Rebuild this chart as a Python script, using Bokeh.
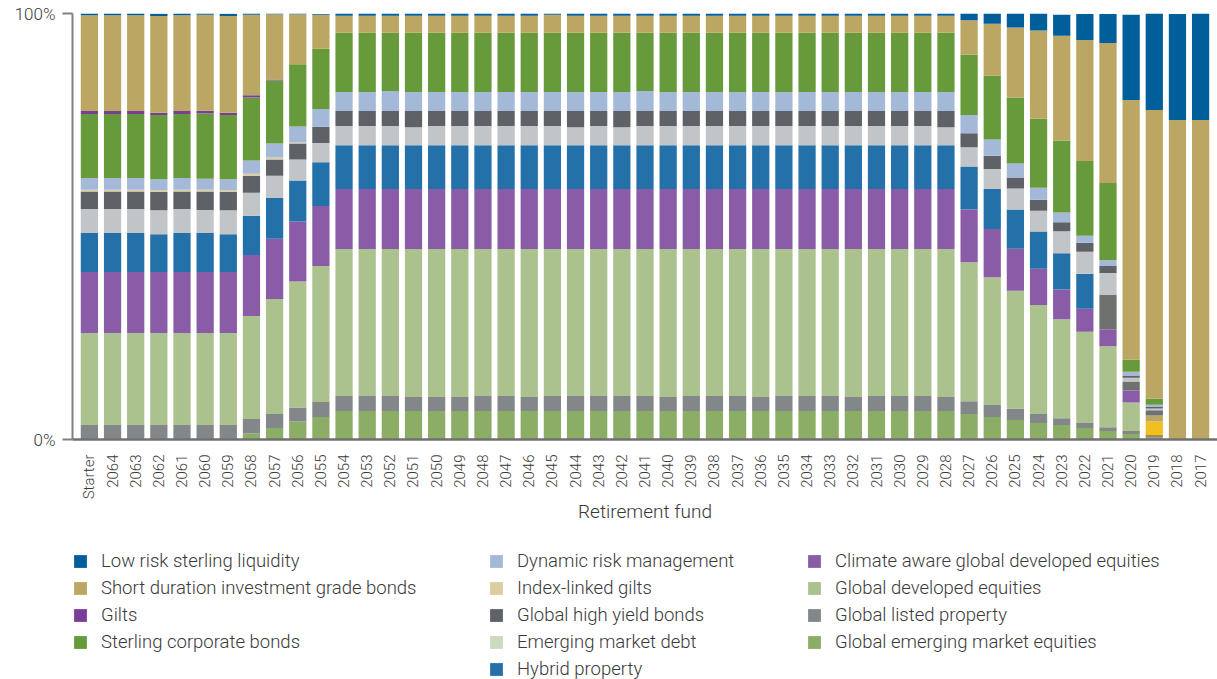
import math
from bokeh.plotting import figure
from bokeh.layouts import column
from bokeh.models import (ColumnDataSource, FactorRange, Range1d, FixedTicker,
                          Legend, LegendItem)
from bokeh.embed import file_html
from bokeh.resources import INLINE

FONT = "Roboto Light, Roboto"
TXT = "#3a3a3a"

categories = ["Starter", "2064", "2063", "2062", "2061", "2060", "2059", "2058", "2057", "2056",
              "2055", "2054", "2053", "2052", "2051", "2050", "2049", "2048", "2047", "2046",
              "2045", "2044", "2043", "2042", "2041", "2040", "2039", "2038", "2037", "2036",
              "2035", "2034", "2033", "2032", "2031", "2030", "2029", "2028", "2027", "2026",
              "2025", "2024", "2023", "2022", "2021", "2020", "2019", "2018", "2017"]

# values in % of each fund, bottom of stack first
unlabelled_light_blue = [0]*46 + [0.6, 0, 0]
unlabelled_olive = [0]*46 + [0.45, 0, 0]
unlabelled_yellow = [0]*46 + [3.2, 0, 0]
unlabelled_tan = [0]*46 + [1.4, 0, 0]

global_emerging_market_equities = [
    0, 0, 0, 0, 0, 0, 0, 1.4, 2.7, 4.2, 5.3,
    6.7, 6.7, 6.7, 6.7, 6.7, 6.7, 6.7, 6.7, 6.7, 6.7, 6.7, 6.7, 6.7, 6.7, 6.7, 6.7, 6.7, 6.7,
    6.7, 6.7, 6.7, 6.7, 6.7, 6.7, 6.7, 6.7, 6.7,
    6.0, 5.3, 4.6, 3.9, 3.4, 2.7, 2.0, 1.3, 0, 0, 0]
global_listed_property = [
    3.4, 3.4, 3.4, 3.4, 3.4, 3.4, 3.4, 3.4, 3.3, 3.3, 3.5,
    3.5, 3.5, 3.5, 3.3, 3.3, 3.3, 3.5, 3.5, 3.3, 3.5, 3.5, 3.5, 3.5, 3.5, 3.3, 3.5, 3.5, 3.5,
    3.3, 3.5, 3.5, 3.5, 3.3, 3.5, 3.5, 3.5, 3.3,
    3.0, 2.8, 2.6, 2.1, 1.6, 1.2, 0.9, 0.7, 0, 0, 0]
global_developed_equities = [
    21.6, 21.6, 21.6, 21.6, 21.6, 21.6, 21.6, 24.2, 27.0, 29.6, 31.9,
    34.5, 34.5, 34.5, 34.7, 34.7, 34.7, 34.5, 34.5, 34.7, 34.5, 34.5, 34.5, 34.5, 34.5, 34.7, 34.5, 34.5, 34.5,
    34.7, 34.5, 34.5, 34.5, 34.7, 34.5, 34.5, 34.5, 34.7,
    32.6, 30.0, 27.7, 25.6, 23.2, 21.4, 19.0, 6.7, 0, 0, 0]
climate_aware_equities = [
    14.3, 14.3, 14.3, 14.3, 14.3, 14.3, 14.3, 14.3, 14.1, 14.1, 14.1,
    14.1, 14.1, 14.1, 14.1, 14.1, 14.1, 14.1, 14.1, 14.1, 14.1, 14.1, 14.1, 14.1, 14.1, 14.1, 14.1, 14.1, 14.1,
    14.1, 14.1, 14.1, 14.1, 14.1, 14.1, 14.1, 14.1, 14.1,
    12.4, 11.3, 9.9, 8.5, 7.0, 5.4, 4.0, 2.8, 0, 0, 0]
hybrid_property = [
    9.2, 9.2, 9.2, 8.9, 9.2, 9.2, 8.9, 9.2, 9.6, 9.6, 10.3,
    10.3, 10.3, 10.3, 10.3, 10.3, 10.3, 10.3, 10.3, 10.3, 10.3, 10.3, 10.3, 10.3, 10.3, 10.3, 10.3, 10.3, 10.3,
    10.3, 10.3, 10.3, 10.3, 10.3, 10.3, 10.3, 10.3, 10.3,
    10.1, 9.4, 9.2, 8.7, 8.5, 8.2, 0, 0, 0, 0, 0]
unlabelled_grey = [0]*44 + [8.0, 2.1, 1.2, 0, 0]
emerging_market_debt = [
    5.6, 5.6, 5.6, 5.6, 5.6, 5.4, 5.6, 5.4, 5.2, 4.9, 4.5,
    4.5, 4.5, 4.5, 4.2, 4.5, 4.5, 4.5, 4.5, 4.5, 4.5, 4.2, 4.5, 4.2, 4.5, 4.5, 4.5, 4.5, 4.5,
    4.5, 4.5, 4.5, 4.5, 4.5, 4.5, 4.5, 4.5, 4.2,
    4.5, 4.7, 4.9, 4.9, 5.2, 5.2, 5.2, 0.9, 0.4, 0, 0]
global_high_yield_bonds = [
    4.1, 4.1, 4.1, 4.3, 4.1, 4.3, 4.3, 4.0, 3.8, 3.8, 3.8,
    3.5, 3.5, 3.5, 3.8, 3.5, 3.5, 3.5, 3.5, 3.5, 3.5, 3.8, 3.5, 3.8, 3.5, 3.5, 3.5, 3.5, 3.5,
    3.5, 3.5, 3.5, 3.5, 3.5, 3.5, 3.5, 3.5, 3.8,
    3.3, 3.1, 2.6, 2.6, 2.1, 2.1, 1.6, 0.5, 0.4, 0, 0]
index_linked_gilts = [
    0.4, 0.4, 0.4, 0.4, 0.4, 0.4, 0.4, 0.5, 0.5, 0.2, 0] + [0]*38
dynamic_risk_management = [
    2.8, 2.8, 2.8, 2.6, 2.8, 2.6, 2.6, 3.1, 3.3, 3.8, 4.2,
    4.5, 4.5, 4.7, 4.5, 4.5, 4.5, 4.5, 4.5, 4.5, 4.5, 4.5, 4.5, 4.5, 4.7, 4.5, 4.5, 4.5, 4.5,
    4.5, 4.5, 4.5, 4.5, 4.5, 4.5, 4.5, 4.5, 4.5,
    4.2, 3.8, 3.3, 2.8, 2.3, 1.6, 1.4, 0.9, 0.5, 0, 0]
sterling_corporate_bonds = [
    15.0, 15.0, 15.0, 15.1, 15.0, 15.3, 15.1, 14.8, 14.8, 14.6, 14.1,
    13.9, 13.9, 13.7, 13.9, 13.9, 13.9, 13.9, 13.9, 13.9, 13.9, 13.9, 13.9, 13.9, 13.7, 13.9, 13.9, 13.9, 13.9,
    13.9, 13.9, 13.9, 13.9, 13.9, 13.9, 13.9, 13.9, 13.9,
    14.3, 15.0, 15.5, 16.2, 16.9, 17.6, 18.1, 2.8, 1.4, 0, 0]
gilts = [0.7, 0.7, 0.7, 0.5, 0.7, 0.7, 0.5, 0.5, 0.2, 0, 0] + [0]*38
short_duration_ig_bonds = [
    22.5, 22.5, 22.5, 22.7, 22.5, 22.5, 22.7, 18.9, 15.3, 11.7, 8.0,
    4.0, 4.0, 4.0, 4.0, 4.0, 4.0, 4.0, 4.0, 4.0, 4.2, 4.0, 4.0, 4.0, 4.0, 4.0, 4.0, 4.0, 4.0,
    4.0, 4.0, 4.0, 4.0, 4.0, 4.0, 4.0, 4.0, 4.0,
    8.0, 12.2, 16.4, 20.7, 24.6, 28.4, 32.9, 61.0, 67.8, 75.0, 75.0]
low_risk_sterling_liquidity = [
    0.55, 0.55, 0.55, 0.55, 0.55, 0.55, 0.55, 0.55, 0.2, 0.2, 0.2,
    0.7, 0.7, 0.7, 0.7, 0.7, 0.7, 0.7, 0.7, 0.7, 0.5, 0.7, 0.7, 0.7, 0.7, 0.7, 0.7, 0.7, 0.7,
    0.7, 0.7, 0.7, 0.7, 0.7, 0.7, 0.7, 0.7, 0.7,
    1.6, 2.6, 3.5, 4.2, 4.9, 6.1, 6.8, 20.0, 22.8, 24.9, 25.1]

series = [
    ("u_lb", unlabelled_light_blue, "#8c9fc8"),
    ("u_ol", unlabelled_olive, "#a8902c"),
    ("u_ye", unlabelled_yellow, "#f0c020"),
    ("u_tn", unlabelled_tan, "#bba663"),
    ("geme", global_emerging_market_equities, "#8cad65"),
    ("glp", global_listed_property, "#83878a"),
    ("gde", global_developed_equities, "#abc28f"),
    ("clim", climate_aware_equities, "#8a5ca8"),
    ("hyb", hybrid_property, "#2470a8"),
    ("u_gr", unlabelled_grey, "#6f716f"),
    ("emd", emerging_market_debt, "#c2c5c8"),
    ("ghy", global_high_yield_bonds, "#5e6266"),
    ("ilg", index_linked_gilts, "#dccda0"),
    ("drm", dynamic_risk_management, "#a4b8d8"),
    ("ster", sterling_corporate_bonds, "#669a3a"),
    ("gilts", gilts, "#7a3d9a"),
    ("short", short_duration_ig_bonds, "#bba663"),
    ("low", low_risk_sterling_liquidity, "#005e9a"),
]

data = {"cat": categories}
for key, vals, _ in series:
    data[key] = vals
src = ColumnDataSource(data)

MAIN_H = 530
p = figure(x_range=FactorRange(*categories, range_padding=0.23, range_padding_units="absolute"),
           y_range=Range1d(0, 100), width=1217, height=MAIN_H,
           output_backend="svg", toolbar_location=None,
           min_border_left=72, min_border_right=0, min_border_top=13,
           min_border_bottom=MAIN_H - 13 - 426)
p.outline_line_color = None
p.grid.visible = False

p.vbar_stack([s[0] for s in series], x="cat", width=0.745,
             color=[s[2] for s in series], line_color=None, source=src)

# axes
xa = p.xaxis[0]
xa.major_label_orientation = math.pi / 2
xa.major_tick_line_color = None
xa.minor_tick_line_color = None
xa.axis_line_color = "#707070"
xa.axis_line_width = 2.5
xa.major_label_standoff = 9
xa.major_label_text_font = FONT
xa.major_label_text_font_size = "15px"
xa.major_label_text_color = TXT
xa.axis_label = "Retirement fund"
xa.axis_label_text_font = FONT
xa.axis_label_text_font_size = "19px"
xa.axis_label_text_font_style = "normal"
xa.axis_label_text_color = TXT
xa.axis_label_standoff = -2

ya = p.yaxis[0]
ya.ticker = FixedTicker(ticks=[0, 100])
ya.major_label_overrides = {0: "0%", 100: "100%"}
ya.major_label_text_font = FONT
ya.major_label_text_font_size = "17px"
ya.major_label_text_color = TXT
ya.major_label_standoff = 7
ya.minor_tick_line_color = None
ya.major_tick_in = 0
ya.major_tick_out = 10
ya.major_tick_line_color = "#808080"
ya.major_tick_line_width = 2
ya.axis_line_color = "#808080"
ya.axis_line_width = 2

# legend panel (separate figure so nothing is clipped); its frame is aligned
# with the main frame (left edge at page x = 72)
LEG_H = 679 - MAIN_H
lf = figure(width=1217, height=LEG_H, x_range=Range1d(0, 1), y_range=Range1d(0, 1),
            x_axis_type=None, y_axis_type=None, output_backend="svg",
            toolbar_location=None, min_border=0)
lf.outline_line_color = None
lf.grid.visible = False

legend_colors = {
    "Low risk sterling liquidity": "#005e9a",
    "Short duration investment grade bonds": "#bba663",
    "Gilts": "#7a3d9a",
    "Sterling corporate bonds": "#669a3a",
    "Dynamic risk management": "#a4b8d8",
    "Index-linked gilts": "#dccda0",
    "Global high yield bonds": "#5e6266",
    "Emerging market debt": "#ccdabe",
    "Hybrid property": "#2470a8",
    "Climate aware global developed equities": "#8a5ca8",
    "Global developed equities": "#abc28f",
    "Global listed property": "#83878a",
    "Global emerging market equities": "#8cad65",
}
cols = [
    ["Low risk sterling liquidity", "Short duration investment grade bonds", "Gilts",
     "Sterling corporate bonds"],
    ["Dynamic risk management", "Index-linked gilts", "Global high yield bonds",
     "Emerging market debt", "Hybrid property"],
    ["Climate aware global developed equities", "Global developed equities",
     "Global listed property", "Global emerging market equities"],
]
col_x = [0, 416, 734]
ITEM_H, SP = 22, 5
legend_top = 560.5 - ITEM_H / 2 - MAIN_H
for names, cx in zip(cols, col_x):
    items = []
    for nm in names:
        # swatch-only renderer, placed outside the visible range
        r = lf.vbar(x=[-10], top=[-10], bottom=[-11], width=0.5,
                    color=legend_colors[nm], line_color=None)
        items.append(LegendItem(label=nm, renderers=[r]))
    n = len(items)
    h = n * ITEM_H + (n - 1) * SP
    vy = LEG_H - legend_top - h
    lg = Legend(items=items, location=(cx, vy), orientation="vertical",
                glyph_width=16, glyph_height=16, label_height=ITEM_H, spacing=SP,
                label_standoff=13, padding=0, margin=0,
                border_line_color=None, background_fill_alpha=0,
                label_text_font=FONT, label_text_font_size="18.5px",
                label_text_color=TXT)
    lf.add_layout(lg, "center")

layout = column(p, lf, spacing=0)
open("out.html", "w").write(file_html(layout, INLINE))
